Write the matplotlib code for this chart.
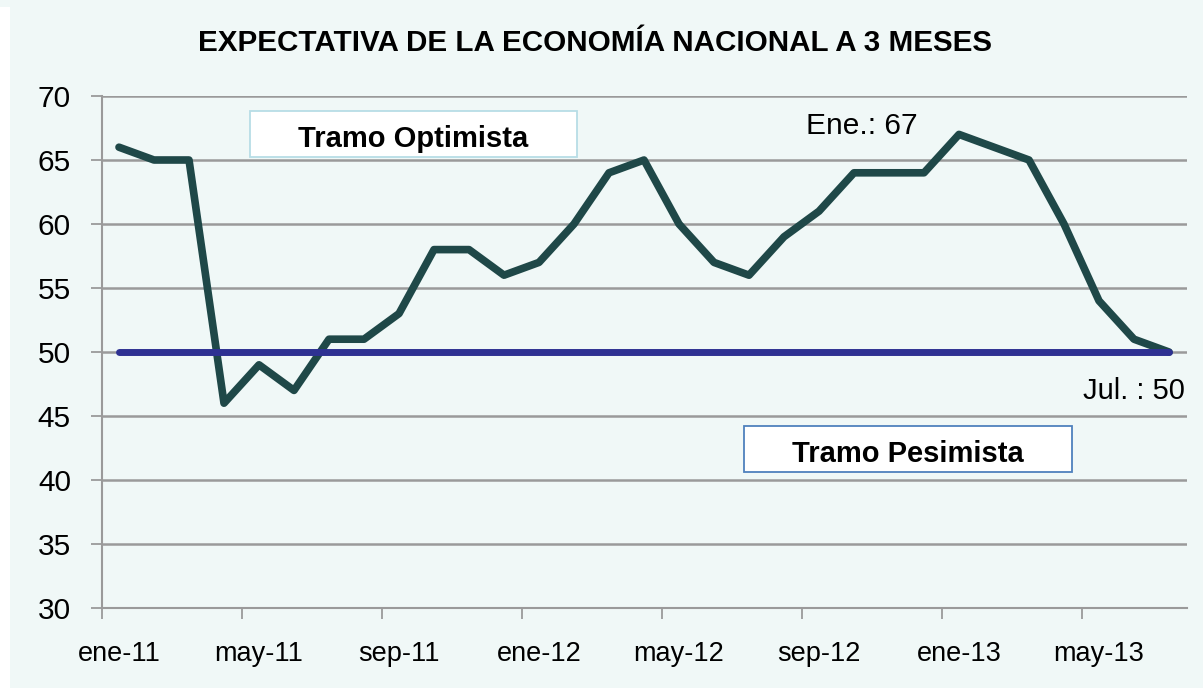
import matplotlib
matplotlib.use("Agg")
import matplotlib.pyplot as plt
from matplotlib.patches import Rectangle
from matplotlib.ticker import FixedLocator

plt.rcParams['font.family'] = ['Liberation Sans', 'DejaVu Sans']

# datos: expectativa mensual ene-11 .. jul-13
meses = ['ene-11', 'feb-11', 'mar-11', 'abr-11', 'may-11', 'jun-11', 'jul-11', 'ago-11',
         'sep-11', 'oct-11', 'nov-11', 'dic-11', 'ene-12', 'feb-12', 'mar-12', 'abr-12',
         'may-12', 'jun-12', 'jul-12', 'ago-12', 'sep-12', 'oct-12', 'nov-12', 'dic-12',
         'ene-13', 'feb-13', 'mar-13', 'abr-13', 'may-13', 'jun-13', 'jul-13']
expectativa = [66, 65, 65, 46, 49, 47, 51, 51, 53, 58, 58, 56, 57, 60, 64, 65,
               60, 57, 56, 59, 61, 64, 64, 64, 67, 66, 65, 60, 54, 51, 50]
umbral = 50
etiqueta_max = 'Ene.: 67'
etiqueta_fin = 'Jul. : 50'

W, H = 1203, 688
bg = '#F0F8F7'
grid_c = '#9A9A9A'

fig = plt.figure(figsize=(W / 100, H / 100), dpi=100, facecolor=bg)
ax = fig.add_axes([101.5 / W, 1 - 608 / H, 1085 / W, 512 / H])
ax.set_facecolor(bg)

x = list(range(len(meses)))
ax.plot(x, expectativa, color='#1F4848', lw=5.5, solid_joinstyle='round',
        solid_capstyle='round', zorder=3)
ax.plot(x, [umbral] * len(x), color='#2E3192', lw=5, solid_capstyle='round', zorder=4)

ax.set_xlim(-0.5, len(meses) - 0.5)
ax.set_ylim(30, 70)
ax.set_yticks(range(30, 71, 5))
ax.yaxis.grid(True, color=grid_c, lw=1.8)
ax.set_axisbelow(True)

# ticks en los limites de categoria, etiquetas en el centro
ax.xaxis.set_major_locator(FixedLocator([i - 0.5 for i in range(0, len(meses), 4)]))
ax.xaxis.set_major_formatter(plt.NullFormatter())
ax.xaxis.set_minor_locator(FixedLocator(list(range(0, len(meses), 4))))
ax.set_xticklabels([meses[i] for i in range(0, len(meses), 4)], minor=True)
ax.tick_params(axis='x', which='major', length=8, width=1.3, color=grid_c, direction='out')
ax.tick_params(axis='x', which='minor', length=0, pad=24, labelsize=19.5)
ax.tick_params(axis='y', length=8, width=1.3, color=grid_c, pad=14, labelsize=21.5)

for s in ['top', 'right']:
    ax.spines[s].set_visible(False)
for s in ['left', 'bottom']:
    ax.spines[s].set_color(grid_c)
    ax.spines[s].set_linewidth(1.5)

fig.text(595 / W, 1 - 43 / H, 'EXPECTATIVA DE LA ECONOMÍA NACIONAL A 3 MESES',
         ha='center', va='center', fontsize=21.3, fontweight='bold')

imax = expectativa.index(max(expectativa))
ax.annotate(etiqueta_max, (imax, expectativa[imax]), xytext=(-70, 6),
            textcoords='offset points', ha='center', va='center', fontsize=21.5)
ax.annotate(etiqueta_fin, (x[-1], expectativa[-1]), xytext=(-25, -28),
            textcoords='offset points', ha='center', va='center', fontsize=21)


def caja(x0, y0, x1, y1, texto, borde):
    fig.add_artist(Rectangle((x0 / W, 1 - y1 / H), (x1 - x0) / W, (y1 - y0) / H,
                             transform=fig.transFigure, facecolor='white',
                             edgecolor=borde, lw=1.3, zorder=5))
    fig.text((x0 + x1) / 2 / W, 1 - ((y0 + y1) / 2 + 5) / H, texto, ha='center', va='center',
             fontsize=21, fontweight='bold', zorder=6)


caja(250, 111, 577, 157, 'Tramo Optimista', '#B7DDE6')
caja(744, 426, 1072, 472, 'Tramo Pesimista', '#4F81BD')

# franja blanca del borde
fig.add_artist(Rectangle((0, 0), 10 / W, 1 - 7 / H, transform=fig.transFigure,
                         facecolor='white', edgecolor='none'))

fig.savefig('out.png', dpi=100, facecolor=bg)
